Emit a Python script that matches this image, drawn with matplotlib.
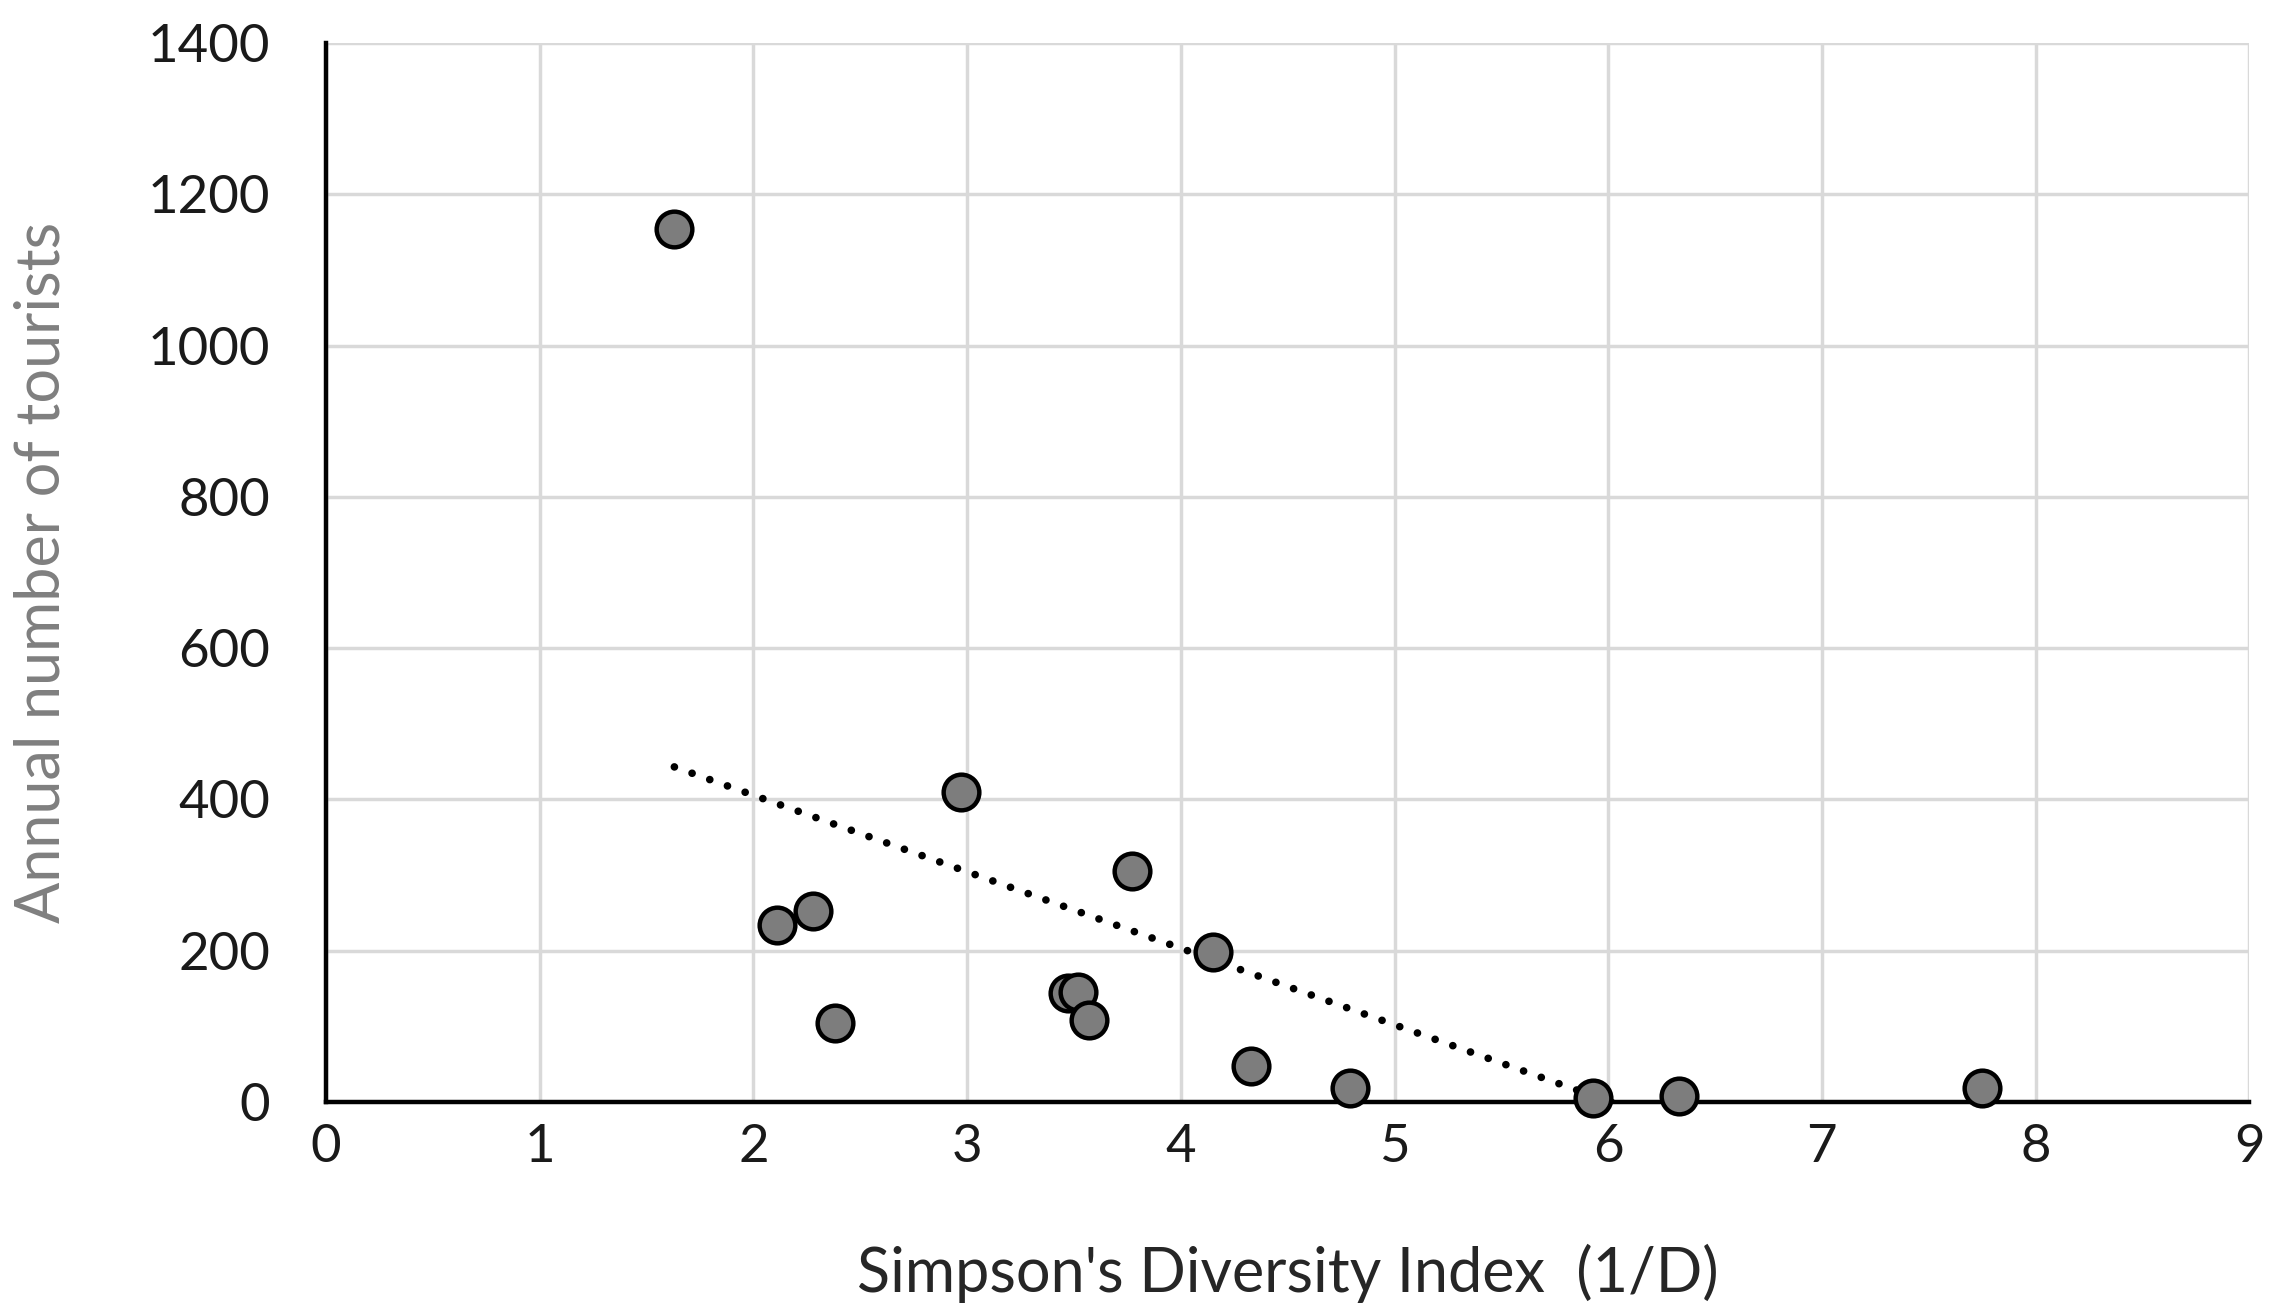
import numpy as np
import matplotlib
matplotlib.use("Agg")
import matplotlib.pyplot as plt

# Simpson's diversity index (1/D) vs annual tourists per site
diversity = [1.63, 2.11, 2.28, 2.38, 2.97, 3.47, 3.52, 3.57, 3.77, 4.15,
             4.33, 4.79, 5.93, 6.33, 7.75]
tourists = [1154, 234, 252, 105, 410, 144, 146, 108, 305, 198,
            47, 18, 5, 8, 18]

x_ticks = list(range(0, 10))
y_ticks = list(range(0, 1401, 200))

plt.rcParams['font.family'] = ['Lato', 'DejaVu Sans']

fig = plt.figure(figsize=(22.72, 13.10), dpi=100)
ax = fig.add_axes([0.1435, 0.1588, 0.8465, 0.8082])

# linear trendline over the data range, clipped by the axes at zero
slope, intercept = np.polyfit(diversity, tourists, 1)
xs = np.array([min(diversity), max(diversity)])
ax.plot(xs, slope * xs + intercept, color='black', lw=5.5,
        linestyle=(0, (0.01, 2.45)), dash_capstyle='round', zorder=2)

ax.scatter(diversity, tourists, s=660, c='#7d7d7d', edgecolors='black',
           linewidths=3.2, zorder=3, clip_on=False)

ax.set_xlim(0, 9)
ax.set_ylim(0, 1400)
ax.set_xticks(x_ticks)
ax.set_yticks(y_ticks)
ax.grid(True, color='#d9d9d9', lw=2.5)
ax.set_axisbelow(True)

for side in ('top', 'right'):
    ax.spines[side].set_visible(False)
for side in ('left', 'bottom'):
    ax.spines[side].set_linewidth(3.2)
    ax.spines[side].set_color('black')
    ax.spines[side].set_zorder(2.5)

ax.tick_params(axis='both', length=0, labelsize=38, colors='#1a1a1a')
ax.tick_params(axis='y', pad=40)
ax.tick_params(axis='x', pad=16)

ax.set_xlabel("Simpson's Diversity Index  (1/D)", fontsize=44,
              color='#262626', labelpad=52)
ax.set_ylabel("Annual number of tourists", fontsize=44, color='#7f7f7f')
ax.yaxis.set_label_coords(-0.133, 0.5)

fig.savefig("out.png", dpi=100, facecolor='white')
